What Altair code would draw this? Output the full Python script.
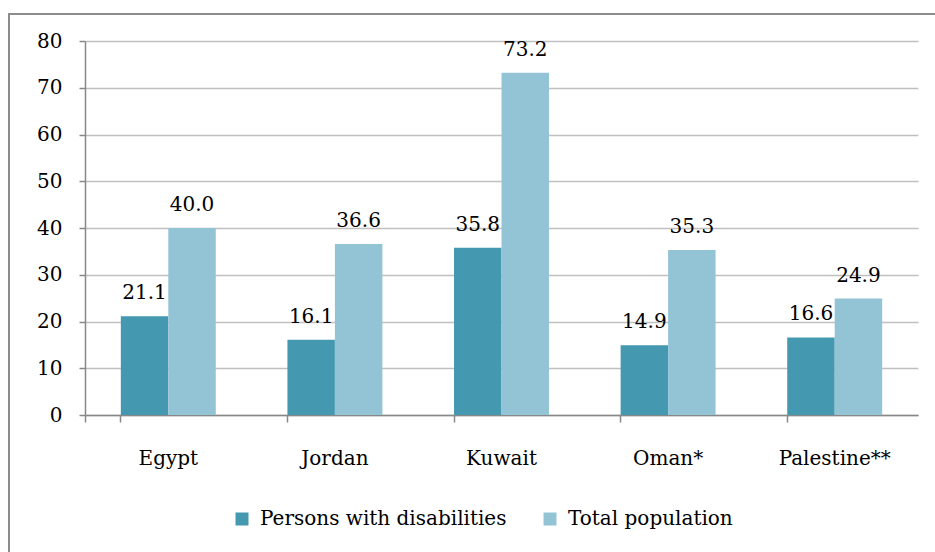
import altair as alt
import pandas as pd

# Share (%) by country for two population groups
countries = ["Egypt", "Jordan", "Kuwait", "Oman*", "Palestine**"]
disabled = [21.1, 16.1, 35.8, 14.9, 16.6]
total = [40.0, 36.6, 73.2, 35.3, 24.9]
series = ["Persons with disabilities", "Total population"]
colors = ["#4499b1", "#93c4d6"]
y_ticks = [0, 10, 20, 30, 40, 50, 60, 70, 80]

rows = []
for c, d, t in zip(countries, disabled, total):
    rows.append({"country": c, "group": series[0], "value": d})
    rows.append({"country": c, "group": series[1], "value": t})
df = pd.DataFrame(rows)

FONT = "DejaVu Serif"
FS = 20
AXIS_GRAY = "#888888"

base = alt.Chart(df).encode(
    x=alt.X(
        "country:N",
        sort=countries,
        scale=alt.Scale(paddingInner=0.43, paddingOuter=0.215),
        axis=alt.Axis(
            title=None,
            labelAngle=0,
            bandPosition=0,
            tickExtra=True,
            tickSize=7,
            tickColor=AXIS_GRAY,
            tickWidth=1.5,
            domainColor=AXIS_GRAY,
            domainWidth=1.5,
            labelPadding=26,
            labelFont=FONT,
            labelFontSize=FS,
            labelColor="#000000",
            grid=False,
        ),
    ),
    xOffset=alt.XOffset("group:N", sort=series),
    y=alt.Y(
        "value:Q",
        scale=alt.Scale(domain=[0, 80], nice=False),
        axis=alt.Axis(
            title=None,
            values=y_ticks,
            tickSize=6,
            tickColor=AXIS_GRAY,
            tickWidth=1.5,
            domainColor=AXIS_GRAY,
            domainWidth=1.5,
            grid=True,
            gridColor="#c0c0c0",
            gridWidth=1.5,
            labelPadding=17,
            labelFont=FONT,
            labelFontSize=FS,
            labelColor="#000000",
        ),
    ),
)

bars = base.mark_bar().encode(
    color=alt.Color(
        "group:N",
        sort=series,
        scale=alt.Scale(domain=series, range=colors),
        legend=alt.Legend(
            title=None,
            orient="none",
            direction="horizontal",
            legendX=147,
            legendY=468,
            symbolType="square",
            symbolSize=169,
            symbolStrokeWidth=0,
            labelFont=FONT,
            labelFontSize=FS,
            labelColor="#000000",
            labelLimit=400,
            labelOffset=8,
            columnPadding=33,
            padding=0,
        ),
    )
)

labels = base.mark_text(
    dy=-17, baseline="alphabetic", font=FONT, fontSize=FS, color="#000000"
).encode(text=alt.Text("value:Q", format=".1f"))

# Outer border around the chart
frame = alt.Chart(pd.DataFrame({"k": [0]})).mark_rect(
    fill=None, stroke="#8c8c8c", strokeWidth=2
).encode(
    x=alt.value(-76),
    y=alt.value(-27),
    x2=alt.value(870),
    y2=alt.value(530),
)

chart = (
    alt.layer(frame, bars, labels)
    .properties(
        width=833,
        height=374,
        autosize=alt.AutoSizeParams(type="none"),
        padding={"left": 85, "top": 41, "right": 17, "bottom": 137},
        background="white",
    )
    .configure_view(stroke=None)
)

chart.save("out.html", embed_options={"renderer": "svg", "actions": False})
